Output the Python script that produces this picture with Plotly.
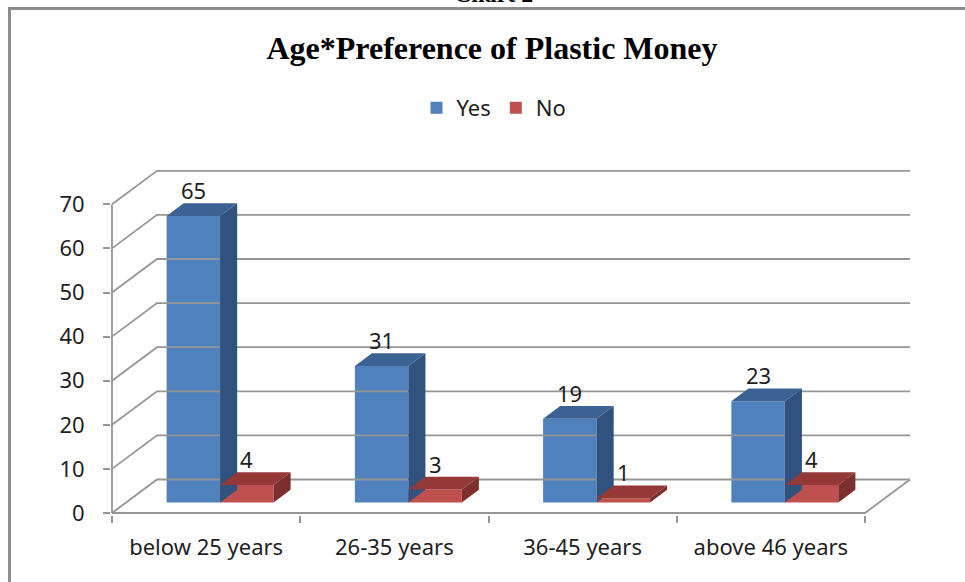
import plotly.graph_objects as go

# ---- data ----
categories = ["below 25 years", "26-35 years", "36-45 years", "above 46 years"]
yes_values = [65, 31, 19, 23]
no_values = [4, 3, 1, 4]
y_ticks = [0, 10, 20, 30, 40, 50, 60, 70]

# ---- pseudo-3D geometry (in axis units) ----
DX, DY = 0.239, 7.6          # full floor depth: x in categories, y in value units
F_FRONT, F_BACK = 0.31, 0.69  # bar front/back planes as fraction of floor depth
BW = 0.284                    # single bar width (category units)
FX, FY = DX * F_FRONT, DY * F_FRONT
BDX, BDY = DX * (F_BACK - F_FRONT), DY * (F_BACK - F_FRONT)

GRID = "#969696"
FONT = "Noto Sans"
TXT = "#1e1e1e"

series = [
    ("Yes", yes_values, "#4F81BD", "#3C6294", "#31527E", -1),
    ("No", no_values, "#C0504D", "#953937", "#7D2F2D", +1),
]

fig = go.Figure()

# back wall gridlines and left wall diagonals
n = len(categories)
for v in y_ticks:
    fig.add_trace(go.Scatter(x=[0, DX, n + DX], y=[v, v + DY, v + DY], mode="lines",
                             line=dict(color=GRID, width=1.8), hoverinfo="skip",
                             showlegend=False))
# floor right edge and front edge, value axis line
fig.add_trace(go.Scatter(x=[0, n, n + DX], y=[0, 0, DY], mode="lines",
                         line=dict(color=GRID, width=1.8), hoverinfo="skip", showlegend=False))
fig.add_trace(go.Scatter(x=[0, 0], y=[0, y_ticks[-1]], mode="lines",
                         line=dict(color=GRID, width=1.8), hoverinfo="skip", showlegend=False))

# bars: front faces as Bar traces, top and side faces as filled polygons
annotations = []
for name, vals, c_front, c_top, c_side, sgn in series:
    centers = [i + 0.5 + FX + sgn * BW / 2 for i in range(n)]
    fig.add_trace(go.Bar(x=centers, y=vals, base=FY, width=BW, name=name,
                         marker=dict(color=c_front, line=dict(width=0))))
    for cx, v in zip(centers, vals):
        a, b, t = cx - BW / 2, cx + BW / 2, FY + v
        fig.add_trace(go.Scatter(x=[a, b, b + BDX, a + BDX, a],
                                 y=[t, t, t + BDY, t + BDY, t],
                                 fill="toself", fillcolor=c_top, mode="lines",
                                 line=dict(width=0), hoverinfo="skip", showlegend=False))
        fig.add_trace(go.Scatter(x=[b, b, b + BDX, b + BDX, b],
                                 y=[FY, t, t + BDY, FY + BDY, FY],
                                 fill="toself", fillcolor=c_side, mode="lines",
                                 line=dict(width=0), hoverinfo="skip", showlegend=False))
        annotations.append(dict(x=cx, y=t + BDY, text=str(v), showarrow=False,
                                xanchor="center", yanchor="middle", yshift=13,
                                font=dict(family=FONT, size=22, color=TXT)))

# page geometry
W, H = 965, 582
ML, MR, MT, MB = 111, 45, 160, 67
PX_PER_CAT, PX_PER_VAL = 188.25, 4.41
x_range = [-1 / PX_PER_CAT, (W - MR - ML - 1) / PX_PER_CAT]
y_range = [-2 / PX_PER_VAL, (H - MB - 2 - MT) / PX_PER_VAL]


def px_to_paper(px, py):
    return (px - ML) / (W - ML - MR), (H - MB - py) / (H - MB - MT)


# clipped heading above the chart box
hx, hy = px_to_paper(493, -6)
annotations.append(dict(x=hx, y=hy, xref="paper", yref="paper", text="<b>Chart 2</b>",
                        showarrow=False, xanchor="center", yanchor="middle",
                        font=dict(family="Liberation Serif", size=24, color="#000")))

fx0, fy0 = px_to_paper(9.5, 8.5)
fx1, fy1 = px_to_paper(990, 600)

fig.update_layout(
    width=W, height=H,
    margin=dict(l=ML, r=MR, t=MT, b=MB),
    paper_bgcolor="white", plot_bgcolor="white",
    barmode="overlay",
    title=dict(text="<b>Age*Preference of Plastic Money</b>", x=492 / W, xanchor="center",
               y=1 - 48 / H, yanchor="middle", yref="container",
               font=dict(family="Liberation Serif", size=32, color="#000")),
    legend=dict(orientation="h", xref="container", yref="container",
                x=494 / W, xanchor="center", y=1 - 108 / H, yanchor="middle",
                font=dict(family=FONT, size=22, color=TXT), traceorder="normal",
                bgcolor="rgba(0,0,0,0)"),
    xaxis=dict(range=x_range, showgrid=False, zeroline=False, showline=False,
               tickvals=[i + 0.5 for i in range(n)], ticktext=categories, ticks="",
               tickfont=dict(family=FONT, size=22, color=TXT), ticklabelstandoff=17,
               minor=dict(tickvals=list(range(n + 1)), ticks="outside", ticklen=7,
                          tickwidth=1.8, tickcolor=GRID)),
    yaxis=dict(range=y_range, showgrid=False, zeroline=False, showline=False,
               tickvals=y_ticks, ticks="outside", ticklen=7, tickwidth=1.8, tickcolor=GRID,
               tickfont=dict(family=FONT, size=22, color=TXT), ticklabelstandoff=14),
    annotations=annotations,
    shapes=[dict(type="rect", xref="paper", yref="paper", x0=fx0, y0=fy1, x1=fx1, y1=fy0,
                 line=dict(color="#8c8c8c", width=3), fillcolor="rgba(0,0,0,0)", layer="below")],
)

fig.write_html("out.html")
